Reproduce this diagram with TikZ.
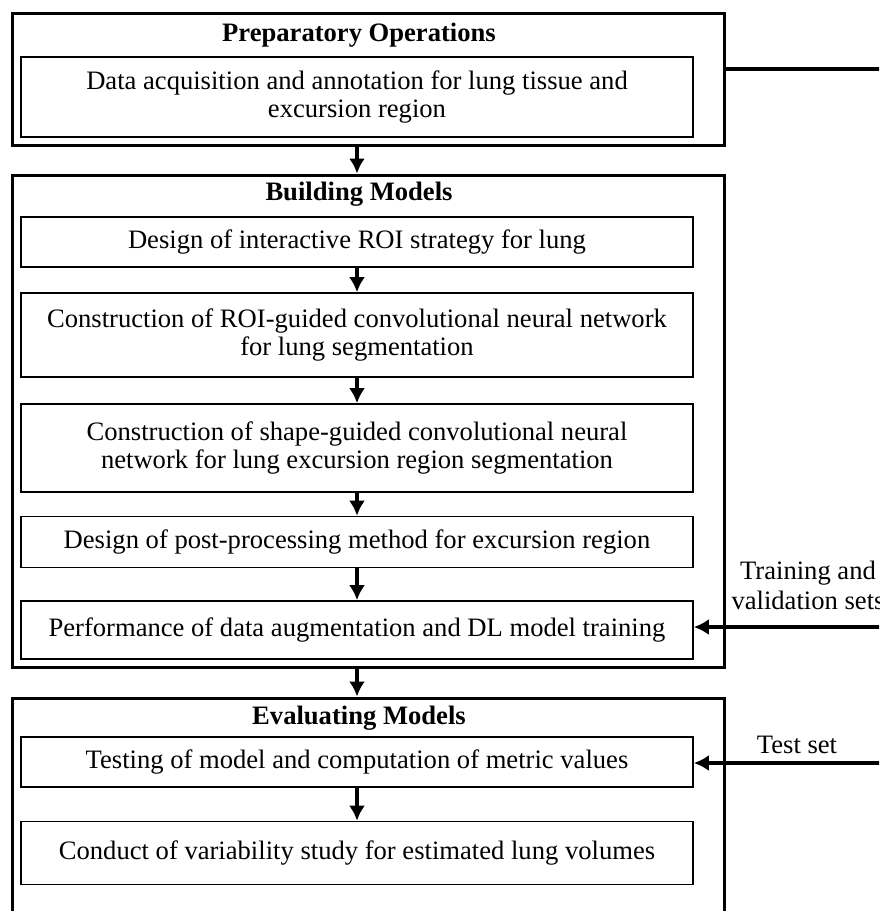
\documentclass[tikz,border=0pt]{standalone}
\usepackage{fontspec}
\setmainfont{Liberation Serif}
\usetikzlibrary{arrows.meta}

\tikzset{
  outerbox/.style={draw, rectangle, line width=1.5pt, minimum width=356pt},
  innerbox/.style={draw, rectangle, line width=0.8pt, minimum width=336pt, align=center, font=\fontsize{13.3}{14.2}\selectfont},
  boxtitle/.style={font=\fontsize{13.3}{14.2}\selectfont\bfseries},
  sidelabel/.style={align=center, font=\fontsize{13.3}{15}\selectfont},
  flowarrow/.style={-{Latex[length=7.5pt,width=8pt]}, line width=1.6pt},
  feedline/.style={line width=1.6pt}
}

\begin{document}
\begin{tikzpicture}[x=0.5pt, y=-0.5pt]
  \useasboundingbox (0,0) rectangle (879,911);
  \clip (0,0) rectangle (879,911);

  % stages
  \node (prep) [outerbox, minimum height=66pt] at (368,79) {};
  \node (build) [outerbox, minimum height=246pt] at (368,421) {};
  \node (eval) [outerbox, minimum height=130pt] at (368,828) {};

  \node (prepTitle) [boxtitle] at (359,35) {Preparatory Operations};
  \node (buildTitle) [boxtitle] at (359,194) {Building Models};
  \node (evalTitle) [boxtitle] at (359,718) {Evaluating Models};

  % steps
  \node (data) [innerbox, minimum height=40pt] at (357,97) {Data acquisition and annotation for lung tissue and\\excursion region};
  \node (roi) [innerbox, minimum height=25pt] at (357,242) {Design of interactive ROI strategy for lung};
  \node (cnn) [innerbox, minimum height=42pt] at (357,335) {Construction of ROI-guided convolutional neural network\\for lung segmentation};
  \node (shape) [innerbox, minimum height=44pt] at (357,448) {Construction of shape-guided convolutional neural\\network for lung excursion region segmentation};
  \node (post) [innerbox, minimum height=25.5pt] at (357,542) {Design of post-processing method for excursion region};
  \node (aug) [innerbox, minimum height=29pt] at (357,630) {Performance of data augmentation and DL model training};
  \node (test) [innerbox, minimum height=25pt] at (357,762) {Testing of model and computation of metric values};
  \node (conduct) [innerbox, minimum height=31.5pt] at (357,853) {Conduct of variability study for estimated lung volumes};

  \draw[flowarrow] (prep.south -| data.south) -- (build.north -| data.south);
  \draw[flowarrow] (roi) -- (cnn);
  \draw[flowarrow] (cnn) -- (shape);
  \draw[flowarrow] (shape) -- (post);
  \draw[flowarrow] (post) -- (aug);
  \draw[flowarrow] (build.south -| aug.south) -- (eval.north -| aug.south);
  \draw[flowarrow] (test) -- (conduct);

  % data sets coming in from the right
  \coordinate (busTop) at (890,69);
  \coordinate (busTrain) at (890,627);
  \coordinate (busTest) at (890,763);
  \draw[feedline] (prep.east |- busTop) -- (busTop);
  \draw[flowarrow] (busTrain) -- (aug.east |- busTrain);
  \draw[flowarrow] (busTest) -- (test.east |- busTest);

  \node (trainLabel) [sidelabel] at (808,585) {Training and\\validation sets};
  \node (testLabel) [sidelabel] at (797,745) {Test set};
\end{tikzpicture}
\end{document}
